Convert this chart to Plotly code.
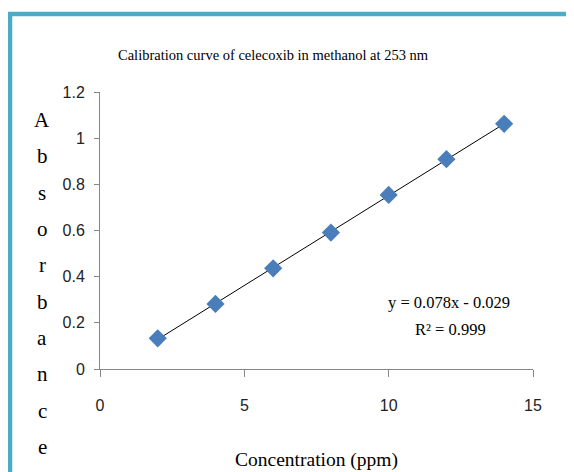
import numpy as np
import plotly.graph_objects as go

# Data
concentration = [2, 4, 6, 8, 10, 12, 14]
absorbance = [0.133, 0.282, 0.436, 0.591, 0.754, 0.909, 1.062]
x_ticks = [0, 5, 10, 15]
y_ticks = [0, 0.2, 0.4, 0.6, 0.8, 1.0, 1.2]
y_tick_text = ["0", "0.2", "0.4", "0.6", "0.8", "1", "1.2"]
title_text = "Calibration curve of celecoxib in methanol at 253 nm"
x_title = "Concentration (ppm)"
y_title = "Absorbance"
equation_text = "y = 0.078x - 0.029"
r2_text = "R\u00b2 = 0.999"

slope, intercept = np.polyfit(concentration, absorbance, 1)
trend_x = [min(concentration), max(concentration)]
trend_y = [slope * v + intercept for v in trend_x]

fig = go.Figure()
fig.add_trace(go.Scatter(x=trend_x, y=trend_y, mode="lines",
                         line=dict(color="black", width=1), showlegend=False, hoverinfo="skip"))
fig.add_trace(go.Scatter(x=concentration, y=absorbance, mode="markers",
                         marker=dict(symbol="diamond", size=14, color="#4A7EBB"),
                         showlegend=False))

tick_font = dict(family="Liberation Sans Narrow, Liberation Sans, Arial", size=16, color="#222")
serif = "Liberation Serif, Times New Roman, serif"

# page body has an 8px margin, so the figure is shifted by 8px in the window
OFF = 8
fig.update_layout(
    width=574 - OFF, height=472 - OFF,
    margin=dict(l=100 - OFF, r=41, t=92 - OFF, b=103),
    paper_bgcolor="white", plot_bgcolor="white",
    xaxis=dict(range=[0, 15], tickvals=x_ticks, showgrid=False, zeroline=False,
               showline=True, linecolor="#868686", linewidth=1,
               ticks="outside", ticklen=7, tickcolor="#868686",
               tickfont=tick_font, ticklabelstandoff=15),
    yaxis=dict(range=[0, 1.2], tickvals=y_ticks, ticktext=y_tick_text, showgrid=False,
               zeroline=False, showline=True, linecolor="#868686", linewidth=1,
               ticks="outside", ticklen=5, tickcolor="#868686",
               tickfont=tick_font, ticklabelstandoff=6),
)

annotations = [
    dict(text=title_text, xref="paper", yref="paper", x=0.4007, y=1.1336,
         xanchor="center", yanchor="middle", showarrow=False,
         font=dict(family=serif, size=14.5, color="black")),
    dict(text=x_title, xref="paper", yref="paper", x=0.5, y=-0.3285,
         xanchor="center", yanchor="middle", showarrow=False,
         font=dict(family=serif, size=19.5, color="black")),
    dict(text=equation_text, xref="x", yref="y", x=12.1, y=0.29,
         xanchor="center", yanchor="middle", showarrow=False,
         font=dict(family=serif, size=16.5, color="black")),
    dict(text=r2_text, xref="x", yref="y", x=12.15, y=0.169,
         xanchor="center", yanchor="middle", showarrow=False,
         font=dict(family=serif, size=16.5, color="black")),
]
n = len(y_title)
top_px, bottom_px = 120, 447
for i, ch in enumerate(y_title):
    py = top_px + (bottom_px - top_px) * i / (n - 1)
    annotations.append(dict(text=ch, xref="paper", yref="paper",
                            x=(42 - 100) / 433, y=(369 - py) / 277,
                            xanchor="center", yanchor="middle", showarrow=False,
                            font=dict(family=serif, size=21, color="black")))
fig.update_layout(annotations=annotations)

# teal frame (left and top edges visible)
x0 = (10 - 100) / 433
yt = (369 - 14) / 277
fig.add_shape(type="path", xref="paper", yref="paper",
              path=f"M {x0},{(369 - 490) / 277} L {x0},{yt} L {(600 - 100) / 433},{yt}",
              line=dict(color="#4BACC6", width=4.5), layer="above")

fig.write_html("out.html")
